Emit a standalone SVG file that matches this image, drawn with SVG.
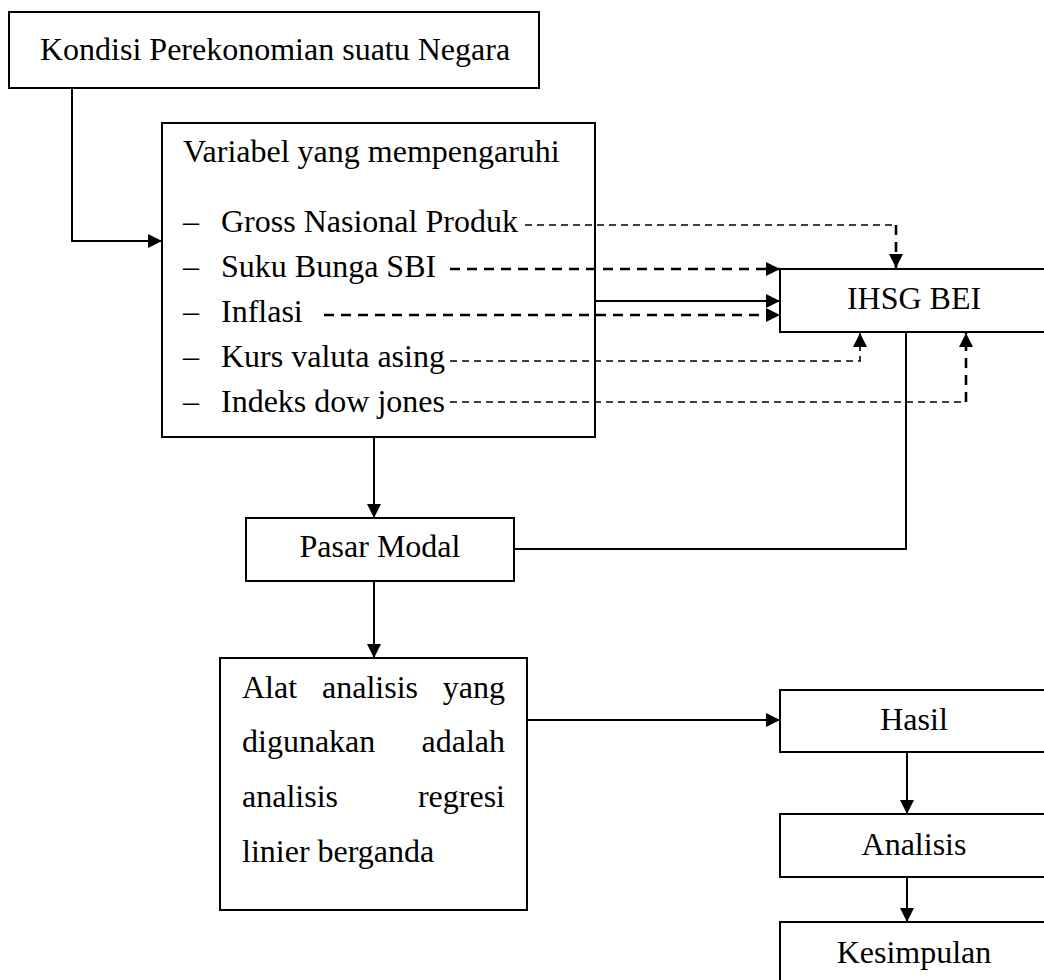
<svg xmlns="http://www.w3.org/2000/svg" width="1044" height="980" viewBox="0 0 1044 980">
<defs>
<style>
text{font-family:"Liberation Serif","Times New Roman",serif;font-size:32px;fill:#000}
.box{fill:#fff;stroke:#000;stroke-width:2}
.ln{fill:none;stroke:#000;stroke-width:2}
.dt{fill:none;stroke:#000;stroke-width:1.6;stroke-dasharray:7 5}
.dk{fill:none;stroke:#000;stroke-width:2.6;stroke-dasharray:10 7}
.c{text-anchor:middle}
.e{text-anchor:end}
</style>
<marker id="ah" viewBox="0 0 10 10" refX="10" refY="5" markerWidth="15" markerHeight="14" markerUnits="userSpaceOnUse" orient="auto">
<path d="M0,0 L10,5 L0,10 z" fill="#000"/>
</marker>
</defs>
<rect width="1044" height="980" fill="#fff"/>
<g id="kondisi">
<rect class="box" x="9" y="12" width="530" height="76"/>
<text x="40" y="60">Kondisi Perekonomian suatu Negara</text>
</g>
<g id="variabel">
<rect class="box" x="162" y="123" width="433" height="314"/>
<text x="183" y="162">Variabel yang mempengaruhi</text>
<text x="183" y="232">–</text><text x="221" y="232">Gross Nasional Produk</text>
<text x="183" y="277">–</text><text x="221" y="277">Suku Bunga SBI</text>
<text x="183" y="322">–</text><text x="221" y="322">Inflasi</text>
<text x="183" y="367">–</text><text x="221" y="367">Kurs valuta asing</text>
<text x="183" y="412">–</text><text x="221" y="412">Indeks dow jones</text>
</g>
<g id="ihsg">
<rect class="box" x="780" y="269" width="270" height="63"/>
<text class="c" x="914" y="309">IHSG BEI</text>
</g>
<g id="pasar">
<rect class="box" x="246" y="518" width="268" height="63"/>
<text class="c" x="380" y="557">Pasar Modal</text>
</g>
<g id="alat">
<rect class="box" x="220" y="658" width="307" height="252"/>
<text x="242" y="698">Alat</text><text x="322" y="698">analisis</text><text class="e" x="505" y="698">yang</text>
<text x="242" y="752">digunakan</text><text class="e" x="505" y="752">adalah</text>
<text x="242" y="807">analisis</text><text class="e" x="505" y="807">regresi</text>
<text x="242" y="862">linier berganda</text>
</g>
<g id="hasil">
<rect class="box" x="780" y="690" width="270" height="62"/>
<text class="c" x="914" y="730">Hasil</text>
</g>
<g id="analisis">
<rect class="box" x="780" y="814" width="270" height="63"/>
<text class="c" x="914" y="855">Analisis</text>
</g>
<g id="kesimpulan">
<rect class="box" x="780" y="922" width="270" height="70"/>
<text class="c" x="914" y="963">Kesimpulan</text>
</g>
<g id="connectors">
<polyline class="ln" points="72,88 72,241 162,241" marker-end="url(#ah)"/>
<line class="ln" x1="594" y1="301" x2="780" y2="301" marker-end="url(#ah)"/>
<polyline class="dt" points="525,225 896,225"/>
<line class="dk" x1="896" y1="225" x2="896" y2="268" marker-end="url(#ah)"/>
<line class="dk" x1="450" y1="269" x2="780" y2="269" marker-end="url(#ah)"/>
<line class="dk" x1="324" y1="315" x2="780" y2="315" marker-end="url(#ah)"/>
<polyline class="dt" points="450,361 860,361 860,333" marker-end="url(#ah)"/>
<polyline class="dt" points="450,402 966,402"/>
<line class="dk" x1="966" y1="402" x2="966" y2="333" marker-end="url(#ah)"/>
<polyline class="ln" points="906,332 906,549 514,549"/>
<line class="ln" x1="374" y1="437" x2="374" y2="518" marker-end="url(#ah)"/>
<line class="ln" x1="374" y1="581" x2="374" y2="658" marker-end="url(#ah)"/>
<line class="ln" x1="527" y1="720" x2="780" y2="720" marker-end="url(#ah)"/>
<line class="ln" x1="907" y1="752" x2="907" y2="814" marker-end="url(#ah)"/>
<line class="ln" x1="907" y1="877" x2="907" y2="922" marker-end="url(#ah)"/>
</g>
</svg>
